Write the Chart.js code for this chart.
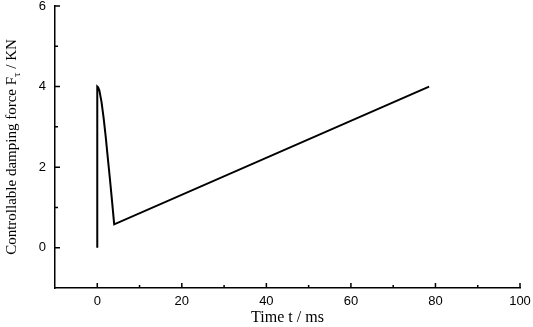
<!DOCTYPE html>
<html>
<head>
<meta charset="utf-8">
<script src="https://cdn.jsdelivr.net/npm/chart.js@4.4.0/dist/chart.umd.min.js"></script>
<style>
html,body{margin:0;padding:0;background:#fff;}
#wrap{width:533px;height:327px;position:relative;}
</style>
</head>
<body>
<div id="wrap"><canvas id="c" width="533" height="327"></canvas></div>
<script>
// Data
const timeMs =  [0,    0,    0.2,  0.5,  1.0,  1.5,  2.0,  2.5,  3.0,  3.5,  4.0,  78.5];
const forceKN = [0,    4.0,  3.98, 3.9,  3.62, 3.22, 2.75, 2.22, 1.7,  1.15, 0.58, 4.0];
const xMajorTicks = [0, 20, 40, 60, 80, 100];
const xMinorTicks = [10, 30, 50, 70, 90];
const yMajorTicks = [0, 2, 4, 6];
const yMinorTicks = [1, 3, 5];
const xTitle = "Time t / ms";
const yTitleMain = "Controllable damping force F";
const yTitleSub = "\u03C4";
const yTitleEnd = " / KN";

const points = timeMs.map((t, i) => ({x: t, y: forceKN[i]}));

const innerTicks = {
  id: 'innerTicks',
  afterDraw(chart) {
    const ctx = chart.ctx;
    const xs = chart.scales.x, ys = chart.scales.y;
    const a = chart.chartArea;
    ctx.save();
    ctx.strokeStyle = '#000';
    ctx.lineWidth = 1.5;
    ctx.beginPath();
    xMajorTicks.forEach(v => { const p = xs.getPixelForValue(v); ctx.moveTo(p, a.bottom); ctx.lineTo(p, a.bottom - 5); });
    xMinorTicks.forEach(v => { const p = xs.getPixelForValue(v); ctx.moveTo(p, a.bottom); ctx.lineTo(p, a.bottom - 3); });
    yMajorTicks.forEach(v => { const p = ys.getPixelForValue(v); ctx.moveTo(a.left, p); ctx.lineTo(a.left + 5, p); });
    yMinorTicks.forEach(v => { const p = ys.getPixelForValue(v); ctx.moveTo(a.left, p); ctx.lineTo(a.left + 3, p); });
    ctx.stroke();
    // y title with subscript
    ctx.fillStyle = '#000';
    ctx.translate(12, (a.top + a.bottom) / 2);
    ctx.rotate(-Math.PI / 2);
    const big = '15px "Liberation Serif", "Times New Roman", serif';
    const small = '11px "Liberation Serif", "Times New Roman", serif';
    ctx.font = big;
    const w1 = ctx.measureText(yTitleMain).width;
    const w3 = ctx.measureText(yTitleEnd).width;
    ctx.font = small;
    const w2 = ctx.measureText(yTitleSub).width;
    const total = w1 + w2 + w3;
    let x0 = -total / 2;
    ctx.textBaseline = 'middle';
    ctx.textAlign = 'left';
    ctx.font = big;
    ctx.fillText(yTitleMain, x0, 0);
    ctx.font = small;
    ctx.fillText(yTitleSub, x0 + w1, 5);
    ctx.font = big;
    ctx.fillText(yTitleEnd, x0 + w1 + w2, 0);
    ctx.restore();
  }
};

new Chart(document.getElementById('c'), {
  type: 'line',
  data: {
    datasets: [{
      data: points,
      borderColor: '#000',
      borderWidth: 2,
      pointRadius: 0,
      tension: 0,
      fill: false
    }]
  },
  options: {
    responsive: false,
    animation: false,
    events: [],
    layout: {padding: {top: 6, right: 13, left: 0, bottom: 0}},
    plugins: {legend: {display: false}, tooltip: {enabled: false}},
    scales: {
      x: {
        type: 'linear', min: -10, max: 100,
        afterBuildTicks: s => { s.ticks = xMajorTicks.map(v => ({value: v})); },
        afterFit: s => { s.height = 39; s.paddingLeft = 0; s.paddingRight = 0; },
        grid: {display: true, drawOnChartArea: false, drawTicks: false},
        border: {display: true, color: '#000', width: 1.5},
        ticks: {color: '#000', padding: 6, maxRotation: 0, font: {family: '"Liberation Sans", Arial, sans-serif', size: 13}},
        title: {display: true, text: xTitle, color: '#000', padding: {top: 1, bottom: 0}, font: {family: '"Liberation Serif", "Times New Roman", serif', size: 16}}
      },
      y: {
        type: 'linear', min: -1, max: 6,
        afterBuildTicks: s => { s.ticks = yMajorTicks.map(v => ({value: v})); },
        afterFit: s => { s.width = 55; s.paddingTop = 0; s.paddingBottom = 0; },
        grid: {display: true, drawOnChartArea: false, drawTicks: false},
        border: {display: true, color: '#000', width: 1.5},
        ticks: {color: '#000', padding: 9, font: {family: '"Liberation Sans", Arial, sans-serif', size: 13}}
      }
    }
  },
  plugins: [innerTicks]
});
</script>
</body>
</html>
